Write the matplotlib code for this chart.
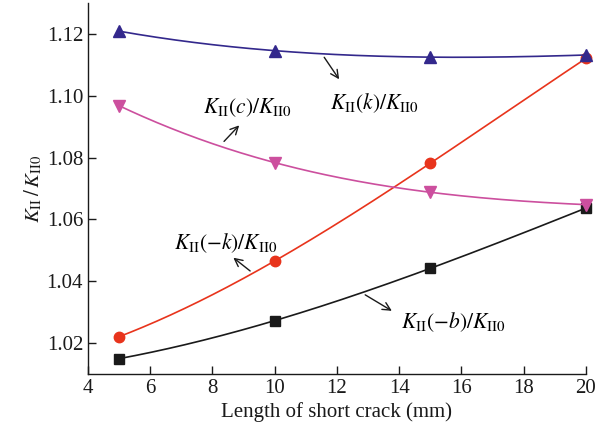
import numpy as np
import matplotlib
matplotlib.use('Agg')
import matplotlib.pyplot as plt

plt.rcParams['font.family'] = ['Liberation Serif', 'DejaVu Serif']
plt.rcParams['mathtext.fontset'] = 'stix'

crack_len = [5, 10, 15, 20]
k_pos = [1.1209, 1.1146, 1.1125, 1.1132]     # K_II(k)/K_II0
k_c = [1.0968, 1.0784, 1.0688, 1.0648]       # K_II(c)/K_II0
k_neg = [1.0221, 1.0466, 1.0782, 1.1121]     # K_II(-k)/K_II0
k_negb = [1.0150, 1.0273, 1.0442, 1.0637]    # K_II(-b)/K_II0

series = [
    (k_negb, '#1a1a1a', 's', 7),
    (k_neg, '#e8341c', 'o', 7.5),
    (k_c, '#cc4f9e', 'v', 8.5),
    (k_pos, '#33288c', '^', 8.5),
]

fig = plt.figure(figsize=(6.11, 4.34), dpi=100)
ax = fig.add_axes([0.144, 0.138, 0.815, 0.855])

xs = np.linspace(5, 20, 200)
for vals, col, mk, ms in series:
    # smooth curve through the four points
    coef = np.polyfit(crack_len, vals, 3)
    ax.plot(xs, np.polyval(coef, xs), color=col, lw=1.2)
    ax.plot(crack_len, vals, ls='none', marker=mk, color=col, ms=ms, clip_on=False)

arrow = dict(arrowstyle='->', color='#1a1a1a', lw=1.0, mutation_scale=14)
fs = 15.5

ax.text(9.11, 1.0962, r'$K_{\mathrm{II}}(c)/K_{\mathrm{II0}}$', fontsize=fs, ha='center', va='center')
ax.annotate('', xy=(8.92, 1.0911), xytext=(8.31, 1.0846), arrowprops=arrow)

ax.text(13.2, 1.0976, r'$K_{\mathrm{II}}(k)/K_{\mathrm{II0}}$', fontsize=fs, ha='center', va='center')
ax.annotate('', xy=(12.12, 1.1046), xytext=(11.54, 1.1132), arrowprops=arrow)

ax.text(8.44, 1.0524, r'$K_{\mathrm{II}}(-k)/K_{\mathrm{II0}}$', fontsize=fs, ha='center', va='center')
ax.annotate('', xy=(8.60, 1.0482), xytext=(9.28, 1.0428), arrowprops=arrow)

ax.text(15.74, 1.0269, r'$K_{\mathrm{II}}(-b)/K_{\mathrm{II0}}$', fontsize=fs, ha='center', va='center')
ax.annotate('', xy=(13.84, 1.0300), xytext=(12.83, 1.0361), arrowprops=arrow)

ax.set_xlim(4, 20)
ax.set_ylim(1.01, 1.13)
ax.set_xticks([4, 6, 8, 10, 12, 14, 16, 18, 20])
ax.set_yticks([1.02, 1.04, 1.06, 1.08, 1.10, 1.12])
ax.set_yticklabels(['1.02', '1.04', '1.06', '1.08', '1.10', '1.12'])
ax.tick_params(direction='in', length=6, width=1.0, labelsize=15, colors='#1a1a1a')
ax.spines['top'].set_visible(False)
ax.spines['right'].set_visible(False)
for s in ('left', 'bottom'):
    ax.spines[s].set_linewidth(1.0)
    ax.spines[s].set_color('#1a1a1a')

ax.set_xlabel('Length of short crack (mm)', fontsize=15, color='#1a1a1a', labelpad=3)
ax.set_ylabel(r'$K_{\mathrm{II}}\,/\,K_{\mathrm{II0}}$', fontsize=15, color='#1a1a1a', labelpad=2)

fig.savefig('out.png', dpi=100)
